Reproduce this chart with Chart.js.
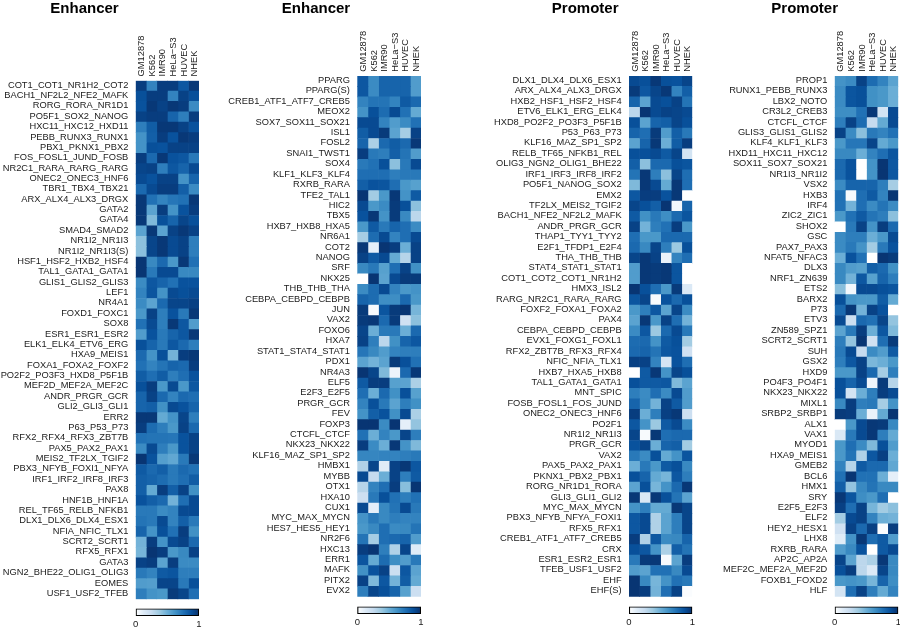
<!DOCTYPE html>
<html><head><meta charset="utf-8">
<style>html,body{margin:0;padding:0;background:#fff;overflow:hidden;width:900px;height:629px}canvas{position:absolute;display:block;filter:blur(0.35px)}</style>
<script src="https://cdn.jsdelivr.net/npm/chart.js@4/dist/chart.umd.min.js"></script>
</head><body>
<script>
const cellLines = ["GM12878","K562","IMR90","HeLa\u2212S3","HUVEC","NHEK"];
const titles = ["Enhancer","Enhancer","Promoter","Promoter"];

const rows1 = ["COT1_COT1_NR1H2_COT2","BACH1_NF2L2_NFE2_MAFK","RORG_RORA_NR1D1","PO5F1_SOX2_NANOG","HXC11_HXC12_HXD11","PEBB_RUNX3_RUNX1","PBX1_PKNX1_PBX2","FOS_FOSL1_JUND_FOSB","NR2C1_RARA_RARG_RARG","ONEC2_ONEC3_HNF6","TBR1_TBX4_TBX21","ARX_ALX4_ALX3_DRGX","GATA2","GATA4","SMAD4_SMAD2","NR1I2_NR1I3","NR1I2_NR1I3(S)","HSF1_HSF2_HXB2_HSF4","TAL1_GATA1_GATA1","GLIS1_GLIS2_GLIS3","LEF1","NR4A1","FOXD1_FOXC1","SOX8","ESR1_ESR1_ESR2","ELK1_ELK4_ETV6_ERG","HXA9_MEIS1","FOXA1_FOXA2_FOXF2","PO2F2_PO3F3_HXD8_P5F1B","MEF2D_MEF2A_MEF2C","ANDR_PRGR_GCR","GLI2_GLI3_GLI1","ERR2","P63_P53_P73","RFX2_RFX4_RFX3_ZBT7B","PAX5_PAX2_PAX1","MEIS2_TF2LX_TGIF2","PBX3_NFYB_FOXI1_NFYA","IRF1_IRF2_IRF8_IRF3","PAX8","HNF1B_HNF1A","REL_TF65_RELB_NFKB1","DLX1_DLX6_DLX4_ESX1","NFIA_NFIC_TLX1","SCRT2_SCRT1","RFX5_RFX1","GATA3","NGN2_BHE22_OLIG1_OLIG3","EOMES","USF1_USF2_TFEB"];
const values1 = [
[.95,.68,.95,.95,.85,.97],[.88,.95,.95,.68,.93,.88],[.87,.97,.93,.97,.95,.65],[.93,.95,.95,.8,.7,.95],[.7,.83,.97,.97,.93,.87],
[.62,.82,.95,.87,.97,.95],[.62,.88,.87,.93,.93,.93],[.95,.78,.97,.87,.85,.72],[.92,.93,.7,.85,.8,.9],[.9,.87,.93,.93,.62,.8],
[.78,.9,.95,.95,.82,.65],[.97,.75,.68,.73,.75,.97],[.97,.55,.95,.62,.87,.95],[.97,.45,.88,.8,.92,.88],[.55,.97,.55,.93,.97,.93],
[.42,.92,.97,.9,.93,.7],[.42,.92,.97,.9,.93,.7],[.98,.66,.78,.6,.97,.75],[.98,.72,.9,.9,.66,.66],[.65,.85,.8,.75,.87,.87],
[.68,.86,.62,.9,.88,.9],[.65,.55,.78,.92,.92,.94],[.6,.93,.7,.87,.72,.97],[.75,.9,.7,.97,.85,.58],[.58,.87,.72,.8,.85,.97],
[.88,.8,.72,.85,.78,.7],[.78,.62,.88,.48,.95,.97],[.75,.68,.74,.8,.78,.95],[.83,.76,.83,.7,.76,.87],[.88,.95,.6,.9,.6,.85],
[.8,.93,.78,.68,.78,.76],[.8,.82,.63,.9,.87,.8],[.97,.97,.52,.62,.92,.7],[.95,.77,.7,.6,.93,.78],[.75,.74,.74,.73,.87,.93],
[.65,.9,.7,.6,.87,.93],[.98,.87,.57,.53,.72,.97],[.84,.78,.82,.72,.78,.75],[.82,.8,.77,.72,.76,.83],[.82,.52,.95,.82,.93,.63],
[.87,.82,.78,.48,.76,.9],[.72,.72,.65,.68,.9,.9],[.74,.72,.9,.68,.82,.72],[.8,.62,.88,.75,.95,.63],[.48,.95,.62,.9,.93,.78],
[.47,.98,.95,.6,.66,.93],[.93,.95,.55,.95,.65,.65],[.72,.68,.84,.86,.7,.7],[.58,.57,.92,.92,.72,.88],[.7,.62,.6,.96,.92,.76]];

const rows2 = ["PPARG","PPARG(S)","CREB1_ATF1_ATF7_CREB5","MEOX2","SOX7_SOX11_SOX21","ISL1","FOSL2","SNAI1_TWST1","SOX4","KLF1_KLF3_KLF4","RXRB_RARA","TFE2_TAL1","HIC2","TBX5","HXB7_HXB8_HXA5","NR6A1","COT2","NANOG","SRF","NKX25","THB_THB_THA","CEBPA_CEBPD_CEBPB","JUN","VAX2","FOXO6","HXA7","STAT1_STAT4_STAT1","PDX1","NR4A3","ELF5","E2F3_E2F5","PRGR_GCR","FEV","FOXP3","CTCFL_CTCF","NKX23_NKX22","KLF16_MAZ_SP1_SP2","HMBX1","MYBB","OTX1","HXA10","CUX1","MYC_MAX_MYCN","HES7_HES5_HEY1","NR2F6","HXC13","ERR1","MAFK","PITX2","EVX2"];
const values2 = [
[.85,.65,.8,.8,.8,.58],[.85,.65,.8,.8,.8,.58],[.68,.74,.74,.68,.84,.78],[.62,.88,.77,.9,.75,.52],[.9,.9,.68,.58,.65,.75],
[.83,.9,.96,.55,.35,.93],[.8,.33,.78,.83,.78,.97],[.95,.72,.7,.82,.74,.58],[.72,.75,.88,.42,.72,.9],[.76,.76,.76,.7,.72,.72],
[.82,.87,.86,.76,.6,.56],[.98,.36,.6,.97,.62,.84],[.9,.6,.65,.96,.88,.42],[.87,.97,.62,.96,.66,.28],[.6,.84,.72,.8,.76,.65],
[.35,.77,.9,.68,.76,.9],[.97,.1,.98,.95,.5,.93],[.93,.84,.9,.52,.3,.93],[.66,.72,.56,.76,.93,.63],[0,.98,.55,.9,.96,.96],
[.65,.77,.9,.68,.6,.62],[.8,.77,.64,.64,.78,.6],[.96,.03,.86,.96,.98,.47],[.96,.97,.78,.96,.2,.42],[.92,.5,.72,.72,.5,.78],
[.93,.7,.28,.63,.8,.85],[.73,.66,.58,.68,.7,.7],[.55,.48,.55,.96,.88,.75],[.98,.92,.45,.07,.78,.97],[.84,.95,.95,.56,.55,.33],
[.76,.5,.78,.63,.88,.56],[.68,.88,.72,.55,.7,.63],[.62,.82,.87,.63,.9,.33],[.98,.98,.65,.98,.1,.4],[.75,.5,.68,.6,.92,.7],
[.95,.65,.5,.97,.62,.45],[.67,.67,.68,.68,.7,.72],[.32,.92,.12,.93,.97,.85],[.9,.25,.5,.93,.7,.84],[.3,.68,.76,.95,.43,.98],
[.22,.72,.88,.75,.7,.75],[.9,.1,.66,.74,.9,.72],[.62,.72,.66,.7,.68,.68],[.6,.66,.76,.65,.66,.74],[.74,.35,.76,.78,.8,.58],
[.95,.98,.7,.32,.92,.12],[.86,.52,.77,.64,.58,.72],[.63,.87,.93,.22,.85,.55],[.93,.45,.85,.48,.83,.52],[.7,.92,.88,.8,.56,.22]];

const rows3 = ["DLX1_DLX4_DLX6_ESX1","ARX_ALX4_ALX3_DRGX","HXB2_HSF1_HSF2_HSF4","ETV6_ELK1_ERG_ELK4","HXD8_PO2F2_PO3F3_P5F1B","P53_P63_P73","KLF16_MAZ_SP1_SP2","RELB_TF65_NFKB1_REL","OLIG3_NGN2_OLIG1_BHE22","IRF1_IRF3_IRF8_IRF2","PO5F1_NANOG_SOX2","EMX2","TF2LX_MEIS2_TGIF2","BACH1_NFE2_NF2L2_MAFK","ANDR_PRGR_GCR","THAP1_TYY1_TYY2","E2F1_TFDP1_E2F4","THA_THB_THB","STAT4_STAT1_STAT1","COT1_COT2_COT1_NR1H2","HMX3_ISL2","RARG_NR2C1_RARA_RARG","FOXF2_FOXA1_FOXA2","PAX4","CEBPA_CEBPD_CEBPB","EVX1_FOXG1_FOXL1","RFX2_ZBT7B_RFX3_RFX4","NFIC_NFIA_TLX1","HXB7_HXA5_HXB8","TAL1_GATA1_GATA1","MNT_SPIC","FOSB_FOSL1_FOS_JUND","ONEC2_ONEC3_HNF6","PO2F1","NR1I2_NR1I3","PRGR_GCR","VAX2","PAX5_PAX2_PAX1","PKNX1_PBX2_PBX1","RORG_NR1D1_RORA","GLI3_GLI1_GLI2","MYC_MAX_MYCN","PBX3_NFYB_NFYA_FOXI1","RFX5_RFX1","CREB1_ATF1_ATF7_CREB5","CRX","ESR1_ESR2_ESR1","TFEB_USF1_USF2","EHF","EHF(S)"];
const values3 = [
[.9,.88,.97,.88,.87,.92],[.96,.85,.92,.97,.68,.82],[.8,.55,.9,.88,.93,.74],[.28,.98,.9,.93,.92,.9],[.88,.55,.8,.82,.92,.88],
[.8,.76,.96,.58,.82,.72],[.55,.8,.97,.5,.83,.95],[.88,.88,.9,.84,.92,.18],[.82,.42,.78,.78,.88,.86],[.74,.97,.7,.42,.92,.76],
[.45,.97,.9,.52,.97,.76],[.85,.95,.95,.87,.97,0],[.92,.88,.82,.98,.05,.8],[.84,.63,.72,.64,.78,.86],[.93,.48,.7,.75,.95,.6],
[.76,.6,.6,.78,.78,.78],[.78,.66,.92,.7,.38,.88],[.92,.97,.93,.08,.68,.76],[.58,.97,.96,.97,.86,0],[.58,.97,.96,.97,.86,0],
[.98,.88,.76,.6,.96,.14],[.86,.92,.03,.87,.78,.88],[.6,.7,.85,.55,.92,.65],[.55,.97,.6,.93,.76,.48],[.65,.85,.38,.78,.9,.72],
[.77,.78,.62,.84,.88,.36],[.78,.8,.74,.85,.87,.2],[.94,.93,.68,.17,.87,.76],[0,.84,.97,.62,.92,.88],[.88,.84,.84,.85,.45,.55],
[.7,.65,.76,.65,.9,.58],[.8,.66,.48,.93,.84,.58],[.95,.5,.7,.94,.97,.22],[.85,.62,.38,.84,.9,.65],[.92,.03,.97,.76,.78,.78],
[.87,.92,.5,.8,.82,.36],[.72,.65,.88,.52,.62,.86],[.5,.72,.6,.84,.88,.66],[.88,.8,.52,.47,.85,.7],[.55,.88,.47,.62,.78,.97],
[.97,.15,.97,.88,.74,.55],[.62,.7,.52,.52,.97,.92],[.85,.9,.32,.55,.7,.92],[.85,.9,.32,.55,.7,.92],[.95,.32,.85,.65,.66,.8],
[.88,.85,.62,.33,.82,.74],[.72,.96,.97,.03,.55,.95],[.58,.55,.75,.75,.66,.9],[.98,.66,.47,.62,.75,.72],[.98,.95,.48,.76,.93,.02]];

const rows4 = ["PROP1","RUNX1_PEBB_RUNX3","LBX2_NOTO","CR3L2_CREB3","CTCFL_CTCF","GLIS3_GLIS1_GLIS2","KLF4_KLF1_KLF3","HXD11_HXC11_HXC12","SOX11_SOX7_SOX21","NR1I3_NR1I2","VSX2","HXB3","IRF4","ZIC2_ZIC1","SHOX2","GSC","PAX7_PAX3","NFAT5_NFAC3","DLX3","NRF1_ZN639","ETS2","BARX2","P73","ETV3","ZN589_SPZ1","SCRT2_SCRT1","SUH","GSX2","HXD9","PO4F3_PO4F1","NKX23_NKX22","MIXL1","SRBP2_SRBP1","ALX1","VAX1","MYOD1","HXA9_MEIS1","GMEB2","BCL6","HMX1","SRY","E2F5_E2F3","ELF2","HEY2_HESX1","LHX8","RXRB_RARA","AP2C_AP2A","MEF2C_MEF2A_MEF2D","FOXB1_FOXD2","HLF"];
const values4 = [
[.62,.65,.93,.77,.68,.55],[.65,.86,.88,.63,.6,.5],[.65,.86,.88,.63,.6,.5],[.64,.64,.75,.97,.18,.9],[.7,.93,.77,.25,.52,.9],
[.93,.65,.42,.72,.68,.75],[.6,.73,.73,.92,.52,.6],[.66,.66,.5,.68,.76,.86],[.78,.87,0,.62,.98,.85],[.78,.87,0,.62,.98,.85],
[.65,.8,.8,.8,.7,.35],[.75,.03,.76,.84,.68,.98],[.75,.48,.76,.65,.74,.65],[.6,.75,.84,.74,.7,.42],[0,.72,.93,.62,.95,.78],
[.65,.7,.7,.5,.6,.9],[.65,.72,.62,.36,.72,.87],[.5,.87,.75,0,.98,.96],[.66,.58,.56,.82,.78,.63],[.66,.48,.85,.56,.8,.7],
[.43,.05,.9,.9,.88,.86],[.88,.62,.6,.6,.83,.52],[.78,.97,.48,.93,.87,0],[.9,.22,.78,.75,.92,.4],[.55,.72,.95,.5,.85,.45],
[.7,.4,.98,.2,.76,.96],[.72,.9,.25,.65,.58,.84],[.7,.85,.93,.46,.5,.6],[.6,.6,.93,.78,.35,.7],[.88,.8,.9,.06,.96,.3],
[.88,.18,.5,.7,.95,.9],[.66,.95,.7,.72,.35,.62],[.96,.95,.5,.08,.52,.98],[0,.6,.9,.97,.96,.66],[.15,.72,.9,.97,.7,.52],
[.6,.76,.65,.45,.88,.58],[.6,.74,.32,.85,.94,.5],[.68,.3,.84,.78,.78,.53],[.75,.98,.75,.75,.5,.1],[.82,.4,.66,.74,.66,.66],
[.97,.86,.64,.6,.76,0],[.94,.76,.93,.47,.36,.42],[.36,.9,.93,.68,.5,.48],[.2,.93,.78,.94,.02,.95],[.12,.62,.97,.76,.84,.58],
[.58,.66,.87,0,.84,.9],[.92,.55,.28,.33,.97,.66],[.88,.95,.28,.14,.92,.66],[.6,.62,.6,.47,.8,.64],[.18,.76,.93,.7,.52,.68]];

const allRows = [rows1,rows2,rows3,rows4];
const allValues = [values1,values2,values3,values4];

/* layout only */
const plotLeft = [135.7,357.3,629,834.7], plotRight = [199,421,692.3,898.3];
const plotTop = [80.7,76,76,76], plotBottom = [599.3,596.7,596.7,596.7];
const canvasLeft = [-30,211,478,711], canvasRight = [201,423,694,900];
const barTop = [608,606,606,606];

const FONT = "'Liberation Sans', Arial, sans-serif";
const TEXT = '#1a1a1a';
const palette = ['#ffffff','#deebf7','#c6dbef','#9ecae1','#6baed6','#4292c6','#2171b5','#08519c','#08306b'];
function hex(c){return [1,3,5].map(i=>parseInt(c.substr(i,2),16));}
function colour(v){
  const t=Math.max(0,Math.min(1,v))*(palette.length-1), i=Math.min(palette.length-2,Math.floor(t)), f=t-i;
  const a=hex(palette[i]), b=hex(palette[i+1]);
  return 'rgb('+a.map((x,k)=>Math.round(x+(b[k]-x)*f)).join(',')+')';
}
function addCanvas(left,top,w,h){
  const c=document.createElement('canvas');
  c.width=w;c.height=h;c.style.left=left+'px';c.style.top=top+'px';c.style.width=w+'px';c.style.height=h+'px';
  document.body.appendChild(c);return c;
}
const TITLE_H = 19;
titles.forEach((title,p)=>{
  const rows=allRows[p], vals=allValues[p];
  const W=canvasRight[p]-canvasLeft[p], H=Math.ceil(plotBottom[p])+1;
  const c=addCanvas(canvasLeft[p],-1,W,H);
  new Chart(c,{
    type:'bar',
    data:{labels:rows,datasets:cellLines.map((name,j)=>({
      label:name,data:rows.map(()=>1),
      backgroundColor:vals.map(r=>colour(r[j])),
      borderWidth:0,barPercentage:1,categoryPercentage:1
    }))},
    options:{
      indexAxis:'y',responsive:false,animation:false,
      layout:{padding:{left:0,top:0,right:canvasRight[p]-plotRight[p],bottom:H-plotBottom[p]-1}},
      plugins:{legend:{display:false},tooltip:{enabled:false},
        title:{display:true,text:title,color:'#000',padding:{top:1,bottom:0},font:{family:FONT,size:15,weight:'bold'}}},
      scales:{
        x:{type:'linear',position:'top',stacked:true,min:0,max:cellLines.length,
          grid:{display:false,drawTicks:false},border:{display:false},
          afterBuildTicks:s=>{s.ticks=cellLines.map((_,i)=>({value:i+.5}));},
          afterFit:s=>{s.height=plotTop[p]+1-TITLE_H;s.paddingLeft=0;s.paddingRight=0;},
          ticks:{autoSkip:false,minRotation:90,maxRotation:90,padding:4.3,labelOffset:12,color:TEXT,font:{family:FONT,size:9.3},
            callback:v=>cellLines[Math.round(v-.5)]}},
        y:{type:'category',stacked:true,
          grid:{display:false,drawTicks:false},border:{display:false},
          afterFit:s=>{s.width=plotLeft[p]-canvasLeft[p];s.paddingTop=0;s.paddingBottom=0;},
          ticks:{autoSkip:false,padding:7.4,labelOffset:-0.8,color:TEXT,font:{family:FONT,size:9.3}}}
      }
    }
  });
  const bw=plotRight[p]-plotLeft[p], cb=addCanvas(Math.floor(plotLeft[p])-8,barTop[p],Math.ceil(bw)+16,23);
  const padL=plotLeft[p]-(Math.floor(plotLeft[p])-8);
  new Chart(cb,{
    type:'bar',
    data:{labels:[''],datasets:[{data:[[0,1]],barPercentage:1,categoryPercentage:1,borderColor:'#000',borderWidth:1.4,borderSkipped:false,
      backgroundColor:ctx=>{
        const a=ctx.chart.chartArea; if(!a) return palette[6];
        const g=ctx.chart.ctx.createLinearGradient(a.left,0,a.right,0);
        palette.forEach((col,i)=>g.addColorStop(i/(palette.length-1),col));
        return g;
      }}]},
    options:{indexAxis:'y',responsive:false,animation:false,
      layout:{padding:{left:padL,right:Math.ceil(bw)+16-padL-bw,top:.5,bottom:0}},
      plugins:{legend:{display:false},tooltip:{enabled:false},title:{display:false}},
      scales:{
        x:{type:'linear',min:0,max:1,grid:{display:false,drawTicks:false},border:{display:false},
          afterFit:s=>{s.height=15;s.paddingLeft=0;s.paddingRight=0;},
          ticks:{stepSize:1,padding:3,maxRotation:0,color:TEXT,font:{family:FONT,size:9.5},callback:v=>String(v)}},
        y:{display:false}
      }
    }
  });
});
</script>
</body></html>
